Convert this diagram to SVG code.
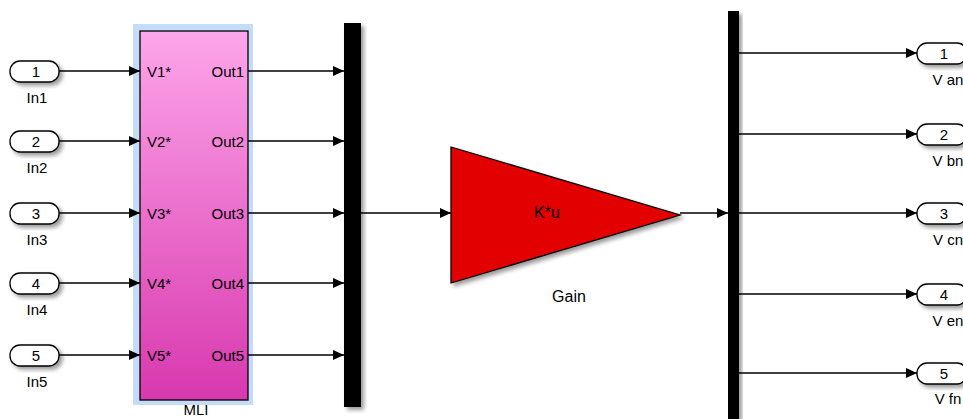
<svg xmlns="http://www.w3.org/2000/svg" width="963" height="419" viewBox="0 0 963 419">
<style>
text{font-family:"Liberation Sans",Arial,sans-serif;font-size:15px;fill:#000}
.big{font-size:16px}
.port{fill:#fff;stroke:#000;stroke-width:1.3}
.wire{stroke:#000;stroke-width:1.3;fill:none}
.mid{text-anchor:middle}
.end{text-anchor:end}
</style>
<defs>
<marker id="ah" markerWidth="11" markerHeight="10" viewBox="0 0 11 10" refX="11" refY="5" orient="auto" markerUnits="userSpaceOnUse">
<path d="M0,0 L11,5 L0,10 Z" fill="#000"/>
</marker>
<linearGradient id="pink" x1="0" y1="0" x2="0" y2="1">
<stop offset="0" stop-color="#fda6ea"/>
<stop offset="1" stop-color="#d838ae"/>
</linearGradient>
<filter id="sh" x="-20%" y="-20%" width="150%" height="150%">
<feGaussianBlur in="SourceAlpha" stdDeviation="2"/>
<feOffset dx="3" dy="3" result="b"/>
<feComponentTransfer><feFuncA type="linear" slope="0.4"/></feComponentTransfer>
<feMerge><feMergeNode/><feMergeNode in="SourceGraphic"/></feMerge>
</filter>
</defs>
<g id="In1"><rect class="port" x="10" y="61" width="49" height="21" rx="10" filter="url(#sh)"/><text class="mid" x="36" y="77">1</text><text class="mid" x="37" y="103">In1</text></g>
<g id="In2"><rect class="port" x="10" y="131" width="49" height="21" rx="10" filter="url(#sh)"/><text class="mid" x="36" y="147">2</text><text class="mid" x="37" y="173">In2</text></g>
<g id="In3"><rect class="port" x="10" y="203" width="49" height="21" rx="10" filter="url(#sh)"/><text class="mid" x="36" y="219">3</text><text class="mid" x="37" y="245">In3</text></g>
<g id="In4"><rect class="port" x="10" y="273" width="49" height="21" rx="10" filter="url(#sh)"/><text class="mid" x="36" y="289">4</text><text class="mid" x="37" y="315">In4</text></g>
<g id="In5"><rect class="port" x="10" y="345" width="49" height="21" rx="10" filter="url(#sh)"/><text class="mid" x="36" y="361">5</text><text class="mid" x="37" y="387">In5</text></g>
<g id="MLI">
<rect x="133" y="24" width="120" height="381" fill="#c4dcf8"/>
<rect x="140" y="31" width="108" height="369" fill="url(#pink)" stroke="#000" stroke-width="1.3"/>
<text x="147" y="77">V1*</text><text x="147" y="147">V2*</text><text x="147" y="219">V3*</text><text x="147" y="289">V4*</text><text x="147" y="361">V5*</text>
<text class="end" x="244" y="77">Out1</text><text class="end" x="244" y="147">Out2</text><text class="end" x="244" y="219">Out3</text><text class="end" x="244" y="289">Out4</text><text class="end" x="244" y="361">Out5</text>
<text class="mid" x="196" y="415">MLI</text>
</g>
<g id="Mux"><rect x="344" y="23" width="17" height="384" fill="#000" filter="url(#sh)"/></g>
<g id="Gain">
<path d="M451,147 L451,283 L680,215 Z" fill="#e30000" stroke="#000" stroke-width="1.3" filter="url(#sh)"/>
<text class="mid big" x="547" y="218">K*u</text>
<text class="mid big" x="569" y="302">Gain</text>
</g>
<g id="Demux"><rect x="728" y="11" width="11" height="412" fill="#000" filter="url(#sh)"/></g>
<g id="Out1"><rect class="port" x="917" y="43" width="50" height="21" rx="10" filter="url(#sh)"/><text class="mid" x="944" y="59">1</text><text class="mid" x="948" y="85">V an</text></g>
<g id="Out2"><rect class="port" x="917" y="124" width="50" height="21" rx="10" filter="url(#sh)"/><text class="mid" x="944" y="140">2</text><text class="mid" x="948" y="166">V bn</text></g>
<g id="Out3"><rect class="port" x="917" y="203" width="50" height="21" rx="10" filter="url(#sh)"/><text class="mid" x="944" y="219">3</text><text class="mid" x="948" y="245">V cn</text></g>
<g id="Out4"><rect class="port" x="917" y="284" width="50" height="21" rx="10" filter="url(#sh)"/><text class="mid" x="944" y="300">4</text><text class="mid" x="948" y="326">V en</text></g>
<g id="Out5"><rect class="port" x="917" y="363" width="50" height="21" rx="10" filter="url(#sh)"/><text class="mid" x="944" y="379">5</text><text class="mid" x="948" y="404">V fn</text></g>
<g id="connectors">
<path class="wire" d="M59,71 H140" marker-end="url(#ah)"/>
<path class="wire" d="M59,141 H140" marker-end="url(#ah)"/>
<path class="wire" d="M59,213 H140" marker-end="url(#ah)"/>
<path class="wire" d="M59,283 H140" marker-end="url(#ah)"/>
<path class="wire" d="M59,355 H140" marker-end="url(#ah)"/>
<path class="wire" d="M248,71 H344" marker-end="url(#ah)"/>
<path class="wire" d="M248,141 H344" marker-end="url(#ah)"/>
<path class="wire" d="M248,213 H344" marker-end="url(#ah)"/>
<path class="wire" d="M248,283 H344" marker-end="url(#ah)"/>
<path class="wire" d="M248,355 H344" marker-end="url(#ah)"/>
<path class="wire" d="M361,213 H451" marker-end="url(#ah)"/>
<path class="wire" d="M680,213 H728" marker-end="url(#ah)"/>
<path class="wire" d="M739,53 H917" marker-end="url(#ah)"/>
<path class="wire" d="M739,134 H917" marker-end="url(#ah)"/>
<path class="wire" d="M739,213 H917" marker-end="url(#ah)"/>
<path class="wire" d="M739,294 H917" marker-end="url(#ah)"/>
<path class="wire" d="M739,373 H917" marker-end="url(#ah)"/>
</g>
</svg>
